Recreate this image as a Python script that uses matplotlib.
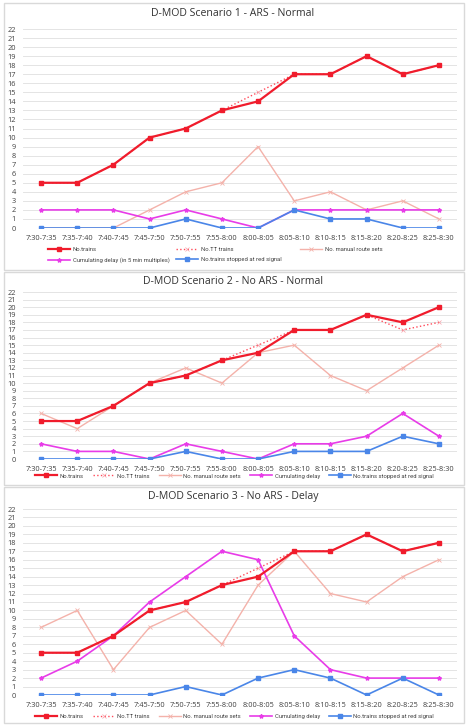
"""
D-MOD scenario charts, three stacked panels
"""

import numpy as np
import matplotlib
matplotlib.use('Agg')
import matplotlib.pyplot as plt
import matplotlib.patches as patches

plt.rcParams['font.family'] = ['Open Sans', 'DejaVu Sans']

slots = ['7:30-7:35', '7:35-7:40', '7:40-7:45', '7:45-7:50', '7:50-7:55', '7:55-8:00',
         '8:00-8:05', '8:05-8:10', '8:10-8:15', '8:15-8:20', '8:20-8:25', '8:25-8:30']

titles = ['D-MOD Scenario 1 - ARS - Normal',
          'D-MOD Scenario 2 - No ARS - Normal',
          'D-MOD Scenario 3 - No ARS - Delay']

# scenario 1
s1_trains = [5, 5, 7, 10, 11, 13, 14, 17, 17, 19, 17, 18]
s1_tt = [5, 5, 7, 10, 11, 13, 15, 17, 17, 19, 17, 18]
s1_manual = [0, 0, 0, 2, 4, 5, 9, 3, 4, 2, 3, 1]
s1_delay = [2, 2, 2, 1, 2, 1, 0, 2, 2, 2, 2, 2]
s1_red = [0, 0, 0, 0, 1, 0, 0, 2, 1, 1, 0, 0]

# scenario 2
s2_trains = [5, 5, 7, 10, 11, 13, 14, 17, 17, 19, 18, 20]
s2_tt = [5, 5, 7, 10, 11, 13, 15, 17, 17, 19, 17, 18]
s2_manual = [6, 4, 7, 10, 12, 10, 14, 15, 11, 9, 12, 15]
s2_delay = [2, 1, 1, 0, 2, 1, 0, 2, 2, 3, 6, 3]
s2_red = [0, 0, 0, 0, 1, 0, 0, 1, 1, 1, 3, 2]

# scenario 3
s3_trains = [5, 5, 7, 10, 11, 13, 14, 17, 17, 19, 17, 18]
s3_tt = [5, 5, 7, 10, 11, 13, 15, 17, 17, 19, 17, 18]
s3_manual = [8, 10, 3, 8, 10, 6, 13, 17, 12, 11, 14, 16]
s3_delay = [2, 4, 7, 11, 14, 17, 16, 7, 3, 2, 2, 2]
s3_red = [0, 0, 0, 0, 1, 0, 2, 3, 2, 0, 2, 0]

delay_labels = ['Cumulating delay (in 5 min multiples)', 'Cumulating delay', 'Cumulating delay']

W, H = 468, 726

# pixel layout per panel: (box top, box bottom, title y, y22, y0, legend y)
layout = [
    (3, 270, 14, 29, 228, 256),
    (272, 485, 282, 292, 459, 476),
    (487, 723, 496, 509, 695, 716),
]


def fx(px):
    return px / W


def fy(py):
    return 1 - py / H


fig = plt.figure(figsize=(W / 100, H / 100), dpi=100)
fig.patch.set_facecolor('white')

data = [
    (s1_trains, s1_tt, s1_manual, s1_delay, s1_red),
    (s2_trains, s2_tt, s2_manual, s2_delay, s2_red),
    (s3_trains, s3_tt, s3_manual, s3_delay, s3_red),
]

x = np.arange(len(slots))
leg_kw = dict(frameon=False, prop={'family': 'Roboto', 'size': 4.2},
              handlelength=3.8, handletextpad=0.45,
              borderpad=0, borderaxespad=0, labelcolor='#404040')

for i, (trains, tt, manual, delay, red) in enumerate(data):
    top, bot, ty, y22, y0, ly = layout[i]

    # panel frame (behind the axes)
    rect = patches.Rectangle((fx(4), fy(bot)), fx(W - 8), fy(top) - fy(bot),
                             transform=fig.transFigure, linewidth=1,
                             edgecolor='#d9d9d9', facecolor='none', zorder=-5)
    fig.patches.append(rect)

    fig.text(fx(233), fy(ty), titles[i], ha='center', va='center',
             fontsize=7.6, color='#333333')

    ax = fig.add_axes([fx(23), fy(y0), fx(457 - 23), fy(y22) - fy(y0)], zorder=2)
    ax.set_facecolor('none')
    ax.set_xlim(-0.5, 11.5)
    ax.set_ylim(0, 22)
    ax.set_yticks(range(0, 23))
    ax.set_xticks(x)
    ax.set_xticklabels(slots)
    ax.tick_params(axis='both', length=0, labelsize=5.3, colors='#404040')
    ax.tick_params(axis='y', pad=5)
    ax.tick_params(axis='x', pad=5)
    for sp in ax.spines.values():
        sp.set_visible(False)
    ax.grid(axis='y', color='#e4e4e4', linewidth=0.7)
    ax.set_axisbelow(True)

    h_man, = ax.plot(x, manual, color='#f4b2aa', linewidth=1.0, marker='x',
                     markersize=3, markeredgewidth=0.6, label='No. manual route sets')
    h_tt, = ax.plot(x, tt, color='#ff4a5a', linewidth=1.0, linestyle=':',
                    marker='x', markersize=3, markeredgewidth=0.5,
                    markeredgecolor='#f7a0a8', label='No.TT trains')
    h_del, = ax.plot(x, delay, color='#e83ce8', linewidth=1.2, marker='*',
                     markersize=3, label=delay_labels[i])
    h_red, = ax.plot(x, red, color='#4a86e8', linewidth=1.2, marker='s',
                     markersize=2.5, label='No.trains stopped at red signal')
    h_tr, = ax.plot(x, trains, color='#f01c2c', linewidth=1.6, marker='s',
                    markersize=3.2, label='No.trains')

    if i == 0:
        # two-row legend, three columns placed like the original
        cols = [([h_tr, h_del], 48), ([h_tt, h_red], 176), ([h_man], 300)]
        for hs, px in cols:
            fig.legend(handles=hs, loc='upper left',
                       bbox_to_anchor=(fx(px), fy(247)), ncol=1,
                       labelspacing=0.9, **leg_kw)
    else:
        fig.legend(handles=[h_tr, h_tt, h_man, h_del, h_red], loc='center left',
                   bbox_to_anchor=(fx(35), fy(ly)), ncol=5,
                   columnspacing=1.5, **leg_kw)

fig.savefig('out.png', dpi=100, facecolor='white')
